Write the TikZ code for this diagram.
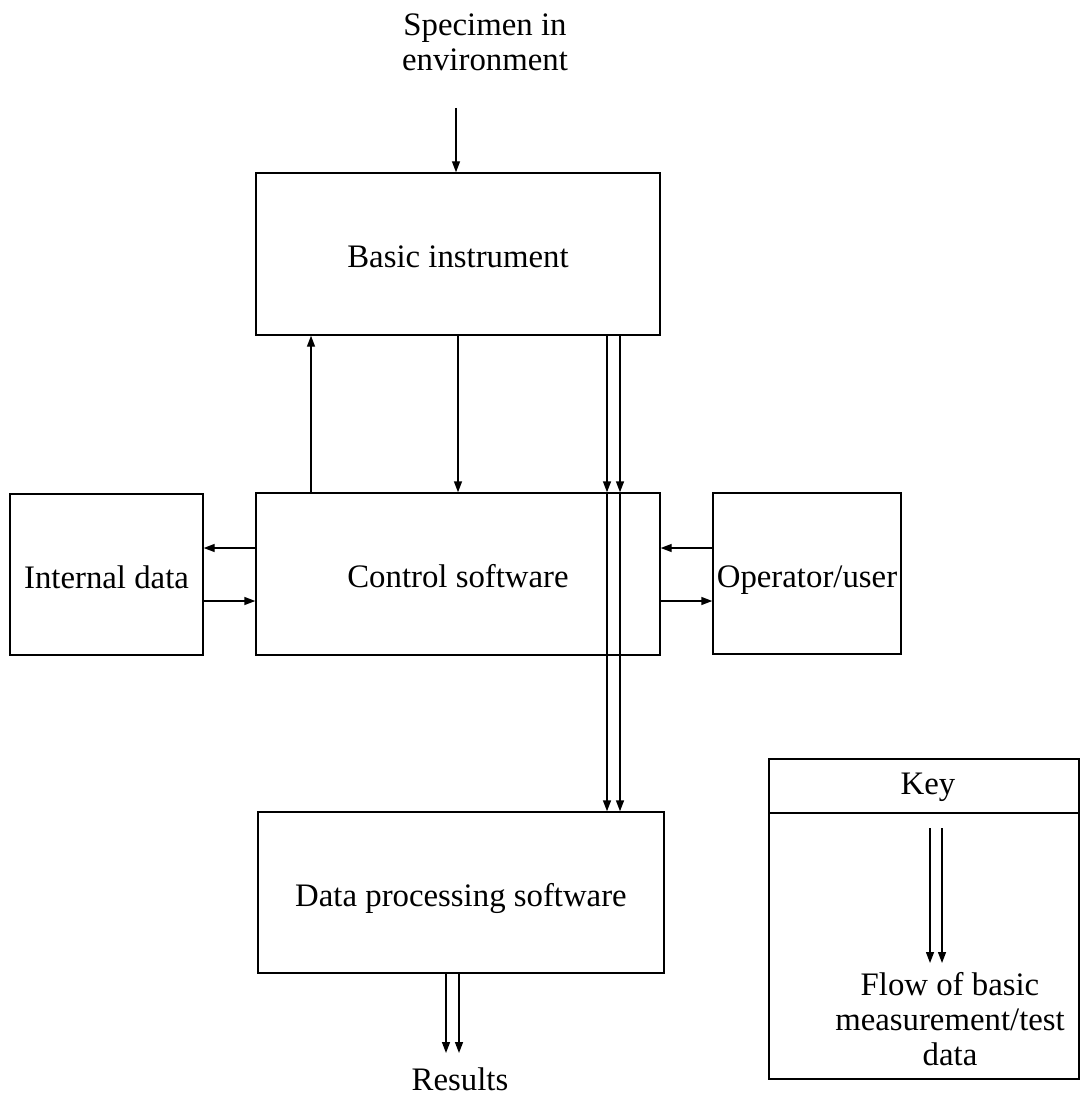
\documentclass[tikz,border=0pt]{standalone}
\usepackage{fontspec}
\setmainfont{Liberation Serif}
\usetikzlibrary{arrows.meta}
\begin{document}
\begin{tikzpicture}[x=1pt,y=-1pt,
  txt/.style={font=\fontsize{32.8pt}{35pt}\selectfont, align=center},
  box/.style={draw, line width=1.4pt, rectangle, inner sep=0pt, txt, text height=31pt, text depth=4pt},
  lbl/.style={inner sep=0pt, txt},
  arr/.style={line width=1.4pt, -{Triangle[length=11pt,width=8pt]}},
  ln/.style={line width=1.6pt}]
\useasboundingbox (0,0) rectangle (1081,1099);

\node[box, minimum width=404pt, minimum height=162pt] (basic) at (458,254) {Basic instrument};
\node[box, minimum width=404pt, minimum height=162pt] (control) at (458,574) {Control software};
\node[box, minimum width=193pt, minimum height=161pt] (internal) at (106.5,574.5) {Internal data};
\node[box, minimum width=188pt, minimum height=161pt] (operator) at (807,573.5) {Operator/user};
\node[box, minimum width=406pt, minimum height=161pt] (dp) at (461,892.5) {Data processing software};
\node[box, minimum width=310pt, minimum height=320pt] (key) at (924,919) {};

\node[lbl] (spec) at (485,42) {Specimen in\\environment};
\node[lbl] (results) at (460,1079) {Results};
\node[lbl] (keylbl) at (928,787) {Key};
\node[lbl] (flow) at (950,1019) {Flow of basic\\measurement/test\\data};

% specimen arrow
\coordinate (sp) at (456,108);
\draw[arr] (sp) -- (sp |- basic.north);

% control <-> basic
\draw[arr] ([xshift=-147pt]control.north) -- ([xshift=-147pt]basic.south);
\draw[arr] (basic.south) -- (control.north);

% double data flow
\coordinate (d1) at ([xshift=149pt]basic.south);
\coordinate (d2) at ([xshift=162pt]basic.south);
\draw[arr] (d1) -- (d1 |- control.north);
\draw[arr] (d1 |- control.north) -- (d1 |- dp.north);
\draw[arr] (d2) -- (d2 |- control.north);
\draw[arr] (d2 |- control.north) -- (d2 |- dp.north);

% internal data
\draw[arr] ([yshift=26pt]control.west) -- ([yshift=26pt]control.west -| internal.east);
\draw[arr] ([yshift=-27pt]control.west -| internal.east) -- ([yshift=-27pt]control.west);

% operator
\draw[arr] ([yshift=26pt]control.east -| operator.west) -- ([yshift=26pt]control.east);
\draw[arr] ([yshift=-27pt]control.east) -- ([yshift=-27pt]control.east -| operator.west);

% results
\coordinate (r1) at (446,1053);
\coordinate (r2) at (459,1053);
\draw[arr] (r1 |- dp.south) -- (r1);
\draw[arr] (r2 |- dp.south) -- (r2);

% key
\coordinate (kh) at (0,813);
\draw[ln] (key.west |- kh) -- (key.east |- kh);
\coordinate (k1) at (930,828);
\coordinate (k2) at (942,828);
\coordinate (k1e) at (930,963);
\coordinate (k2e) at (942,963);
\draw[arr] (k1) -- (k1e);
\draw[arr] (k2) -- (k2e);
\end{tikzpicture}
\end{document}
